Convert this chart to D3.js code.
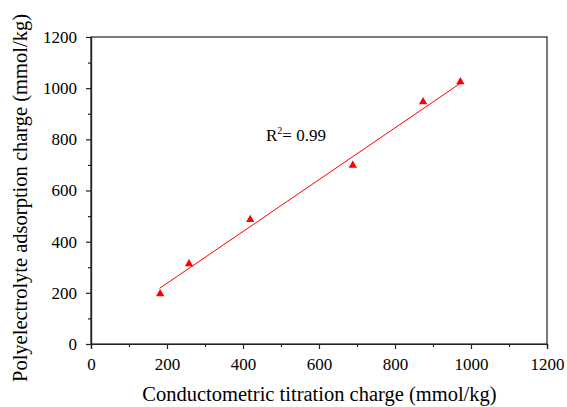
<!DOCTYPE html>
<html><head><meta charset="utf-8">
<script src="https://cdn.jsdelivr.net/npm/d3@7"></script>
<style>body{margin:0;background:#fff}svg{display:block;font-family:"Liberation Serif",serif}svg text{font-family:"Liberation Serif",serif !important;fill:#000}.tick text{font-size:17px !important}</style>
</head><body><svg id="c" width="567" height="407"></svg>
<script>
const xValues = [182, 258, 419, 689, 874, 972];
const yValues = [196, 313, 486, 698, 947, 1025];
const fitX = [180, 971];
const fitY = [217, 1018];
const xTicks = [0, 200, 400, 600, 800, 1000, 1200];
const yTicks = [0, 200, 400, 600, 800, 1000, 1200];
const xMinor = [100, 300, 500, 700, 900, 1100];
const yMinor = [100, 300, 500, 700, 900, 1100];
const xTitle = "Conductometric titration charge (mmol/kg)";
const yTitle = "Polyelectrolyte adsorption charge (mmol/kg)";
const r2Label = "0.99";

const svg = d3.select("#c");
const L = 91, R = 547, T = 37, B = 344;
const x = d3.scaleLinear().domain([0, 1200]).range([L, R]);
const y = d3.scaleLinear().domain([0, 1200]).range([B, T]);

svg.append("rect").attr("x", L).attr("y", T).attr("width", R - L).attr("height", B - T)
  .attr("fill", "none").attr("stroke", "#222").attr("stroke-width", 1.2);

const gx = svg.append("g").attr("transform", `translate(0,${B})`)
  .call(d3.axisBottom(x).tickValues(xTicks).tickSize(5).tickPadding(9).tickFormat(d3.format("d")));
const gxm = svg.append("g").attr("transform", `translate(0,${B})`)
  .call(d3.axisBottom(x).tickValues(xMinor).tickSize(3).tickFormat(""));
const gy = svg.append("g").attr("transform", `translate(${L},0)`)
  .call(d3.axisLeft(y).tickValues(yTicks).tickSize(5).tickPadding(9).tickFormat(d3.format("d")));
const gym = svg.append("g").attr("transform", `translate(${L},0)`)
  .call(d3.axisLeft(y).tickValues(yMinor).tickSize(3).tickFormat(""));
[gx, gxm, gy, gym].forEach(g => {
  g.attr("font-family", "Liberation Serif").attr("font-size", 17);
  g.selectAll(".domain").attr("stroke", "#222").attr("stroke-width", 1.2);
  g.selectAll("line").attr("stroke", "#222").attr("stroke-width", 1.2);
  g.selectAll("text").attr("fill", "#000");
});

svg.append("line")
  .attr("x1", x(fitX[0])).attr("y1", y(fitY[0]))
  .attr("x2", x(fitX[1])).attr("y2", y(fitY[1]))
  .attr("stroke", "#ff0000").attr("stroke-width", 1);

svg.append("g").selectAll("path").data(xValues.map((v, i) => [v, yValues[i]])).join("path")
  .attr("transform", d => `translate(${x(d[0])},${y(d[1])})`)
  .attr("d", d3.symbol(d3.symbolTriangle, 30))
  .attr("fill", "#ff0000");

const t = svg.append("text").attr("x", 266).attr("y", 141).style("font-size", "17px");
t.append("tspan").text("R");
t.append("tspan").text("2").style("font-size", "10px").attr("dy", -7);
t.append("tspan").text("= " + r2Label).attr("dy", 7);

svg.append("text").attr("x", 319.5).attr("y", 401).attr("text-anchor", "middle")
  .style("font-size", "20.5px").text(xTitle);
svg.append("text").attr("transform", `translate(27,198) rotate(-90)`)
  .attr("text-anchor", "middle").style("font-size", "20.5px").text(yTitle);
</script></body></html>
